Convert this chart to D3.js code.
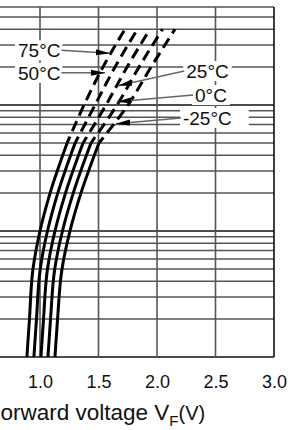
<!DOCTYPE html>
<html><head><meta charset="utf-8">
<script src="https://cdn.jsdelivr.net/npm/d3@7"></script>
<style>html,body{margin:0;padding:0;background:#fff;overflow:hidden}</style>
</head><body><svg id="c" width="291" height="430"></svg>
<script>
// ---- data ----
const currents = [1, 2, 5, 10, 20, 50, 100, 200, 400];          // forward current (mA)
const temps = ["75°C", "50°C", "25°C", "0°C", "-25°C"];
const vf75  = [0.888, 0.910, 0.940, 1.000, 1.086, 1.232, 1.376, 1.538, 1.726];
const vf50  = [0.948, 0.970, 1.002, 1.064, 1.152, 1.300, 1.470, 1.641, 1.833];
const vf25  = [1.008, 1.030, 1.064, 1.128, 1.218, 1.368, 1.564, 1.744, 1.940];
const vf0   = [1.068, 1.090, 1.126, 1.192, 1.284, 1.436, 1.658, 1.846, 2.047];
const vfm25 = [1.128, 1.150, 1.188, 1.256, 1.350, 1.504, 1.752, 1.949, 2.154];
const dcLimit = 50;                                               // solid up to here, dashed above
const xTicks = [1.0, 1.5, 2.0, 2.5, 3.0];
const xTickLabels = ["1.0", "1.5", "2.0", "2.5", "3.0"];
const yGrid = [1,2,3,4,5,6,7,8,9,10,20,30,40,50,60,70,80,90,100,200,300,400,500,600];
const yMajor = [1, 10, 100];
// label text, label anchor (V, I) and arrow tip (V, I)
const labelText = ["75°C", "50°C", "25°C", "0°C", "-25°C"];
const labelV = [0.812, 0.812, 2.250, 2.325, 2.222];
const labelI = [272, 180, 186, 120, 79];
const tipV = [1.598, 1.556, 1.667, 1.658, 1.650];
const tipI = [258, 180, 142, 106, 71];

// ---- layout ----
const svg = d3.select("#c");
const x = d3.scaleLinear().domain([0.5, 3.0]).range([-18.5, 274]);
const y = d3.scaleLog().domain([1, 600]).range([357, 7]);
const series = [vf75, vf50, vf25, vf0, vfm25];
const FONT = "Liberation Sans, Arial, sans-serif";

// grid
const g = svg.append("g");
g.selectAll("line.h").data(yGrid).join("line")
  .attr("x1", x(0.5)).attr("x2", x(3.0))
  .attr("y1", d => y(d)).attr("y2", d => y(d))
  .attr("stroke", d => yMajor.includes(d) ? "#111" : "#555")
  .attr("stroke-width", d => yMajor.includes(d) ? 1.4 : 1.5);
g.selectAll("line.v").data(xTicks).join("line")
  .attr("x1", d => x(d)).attr("x2", d => x(d))
  .attr("y1", y(1)).attr("y2", y(600))
  .attr("stroke", d => d === 3.0 ? "#111" : "#555")
  .attr("stroke-width", 1.6);

// x axis labels
const ax = svg.append("g").attr("transform", `translate(0,${y(1)})`)
  .call(d3.axisBottom(x).tickValues(xTicks).tickFormat((d, i) => xTickLabels[i]).tickSize(0).tickPadding(18));
ax.select(".domain").remove();
ax.selectAll("text").attr("font-family", FONT).attr("font-size", 18).attr("fill", "#111");

// x title (as cropped in the source picture)
const t = svg.append("text").attr("x", 0.5).attr("y", 420)
  .attr("font-family", FONT).attr("font-size", 22.5).attr("fill", "#111");
t.append("tspan").text("orward voltage V");
t.append("tspan").attr("font-size", 15).attr("dy", 6).text("F");
t.append("tspan").attr("font-size", 20).attr("dy", -6).text("(V)");

// curves
const line = d3.line().x(d => x(d[0])).y(d => y(d[1])).curve(d3.curveMonotoneY);
series.forEach(vs => {
  const pts = currents.map((c, i) => [vs[i], c]);
  svg.append("path").attr("d", line(pts.filter(p => p[1] <= dcLimit)))
    .attr("fill", "none").attr("stroke", "#000").attr("stroke-width", 3);
  svg.append("path").attr("d", line(pts.filter(p => p[1] >= dcLimit)))
    .attr("fill", "none").attr("stroke", "#000").attr("stroke-width", 3)
    .attr("stroke-dasharray", "11,6").attr("stroke-dashoffset", 4);
});

// annotations
const defs = svg.append("defs");
defs.append("marker").attr("id", "ah").attr("markerUnits", "userSpaceOnUse")
  .attr("viewBox", "0 -4 14 8").attr("refX", 14).attr("refY", 0)
  .attr("markerWidth", 14).attr("markerHeight", 8).attr("orient", "auto")
  .append("path").attr("d", "M0,-3L14,0L0,3Z").attr("fill", "#000");

const boxExtra = [2, 2, 3, 3, 17];
labelText.forEach((txt, i) => {
  const lx = x(labelV[i]), ly = y(labelI[i]);
  const left = i < 2;
  const tmp = svg.append("text").attr("font-family", FONT).attr("font-size", 19).text(txt);
  const w = tmp.node().getComputedTextLength();
  tmp.remove();
  svg.append("rect").attr("x", lx - 3).attr("y", ly - 10).attr("width", w + 3 + boxExtra[i]).attr("height", 20).attr("fill", "#fff");
  const sx = left ? lx + w + 1 : lx - 2;
  svg.append("line").attr("x1", sx).attr("y1", ly).attr("x2", x(tipV[i])).attr("y2", y(tipI[i]))
    .attr("stroke", "#666").attr("stroke-width", 1.5).attr("marker-end", "url(#ah)");
  svg.append("text").attr("x", lx).attr("y", ly + 7)
    .attr("font-family", FONT).attr("font-size", 19).attr("fill", "#111").text(txt);
});
</script></body></html>
